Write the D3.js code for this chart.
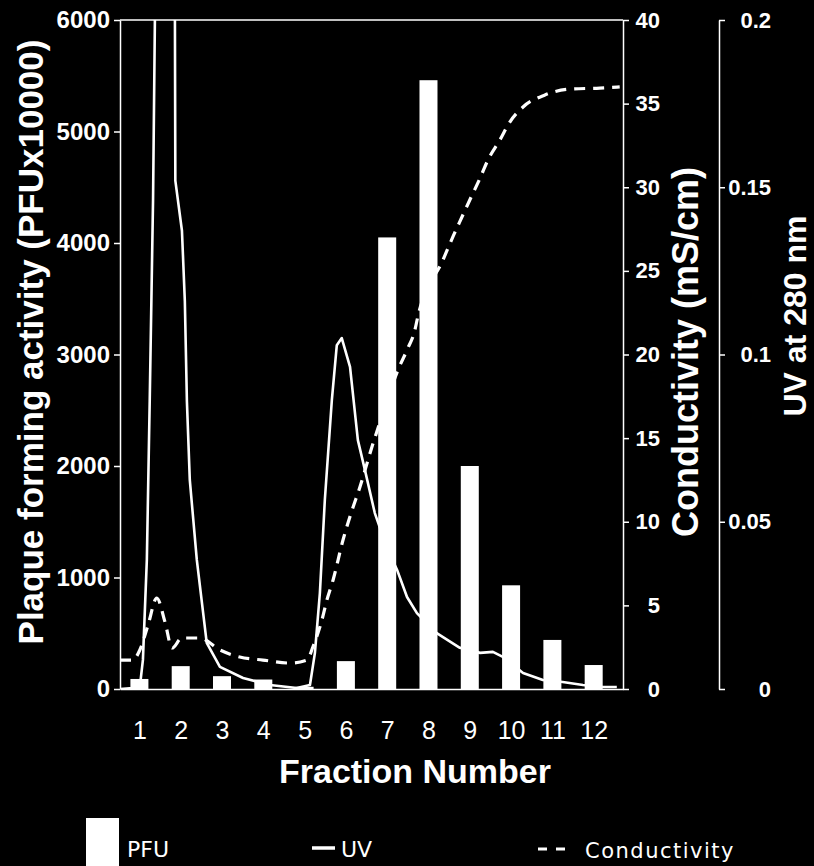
<!DOCTYPE html>
<html lang="en">
<head>
<meta charset="UTF-8">
<title>Fraction PFU / UV / Conductivity</title>
<script src="https://d3js.org/d3.v7.min.js"></script>
<style>
  body { margin: 0; background: #000; }
  svg { display: block; }
  text { fill: #fff; font-family: "Liberation Sans", Arial, sans-serif; }
  .axis path, .axis line { stroke: #fff; stroke-width: 1.5; }
</style>
</head>
<body>
<script>
// fraction number and plaque forming activity (PFU x 10000)
var fractions = [1, 2, 3, 4, 5, 6, 7, 8, 9, 10, 11, 12];
var pfu = [90, 205, 115, 85, 20, 250, 4050, 5460, 2000, 930, 440, 215];

// UV at 280 nm, [fraction, absorbance]
var uv = [
  [0.53, 0], [0.84, 0.0003], [1.01, 0.0006], [1.085, 0.0087], [1.18, 0.0386],
  [1.25, 0.0864], [1.33, 0.146], [1.375, 0.2], [1.45, 0.26], [1.79, 0.26],
  [1.86, 0.2], [1.87, 0.152], [2.03, 0.137], [2.10, 0.116], [2.15, 0.086],
  [2.22, 0.0625], [2.39, 0.0386], [2.63, 0.0138], [2.95, 0.0066], [3.51, 0.0033],
  [4.16, 0.0012], [4.81, 0.0003], [5.13, 0.0012], [5.25, 0.0108], [5.37, 0.0287],
  [5.49, 0.0565], [5.66, 0.0864], [5.78, 0.1028], [5.90, 0.1049], [6.10, 0.0963],
  [6.29, 0.0744], [6.46, 0.0655], [6.70, 0.0526], [6.97, 0.043], [7.24, 0.0356],
  [7.48, 0.0275], [7.72, 0.0227], [8.20, 0.0167], [8.76, 0.0123], [9.25, 0.0108],
  [9.56, 0.0111], [9.80, 0.0096], [10.29, 0.0048], [10.77, 0.0027], [11.25, 0.0021],
  [11.74, 0.0012], [12.22, 0.0006], [12.56, 0.0006]
];

// conductivity, [fraction, mS/cm]
var conductivity = [
  [0.53, 1.73], [0.84, 1.73], [1.01, 2.33], [1.21, 3.83], [1.42, 5.44],
  [1.62, 4.0], [1.79, 2.45], [2.03, 3.05], [2.46, 3.05], [2.95, 2.33],
  [3.43, 1.91], [3.99, 1.73], [4.64, 1.55], [5.06, 1.73], [5.20, 2.51],
  [5.42, 4.13], [5.54, 5.32], [5.69, 6.52], [5.93, 8.91], [6.15, 10.7],
  [6.34, 12.08], [6.63, 14.47], [6.94, 16.8], [7.26, 19.07], [7.48, 20.27],
  [7.67, 21.46], [7.74, 22.24], [8.35, 25.65], [8.59, 27.03], [8.81, 28.22],
  [9.00, 29.24], [9.25, 30.55], [9.44, 31.63], [9.73, 32.83], [9.97, 33.9],
  [10.29, 34.8], [10.82, 35.52], [11.42, 35.87], [12.15, 35.93], [12.63, 36.0]
];

var pfuTicks = [0, 1000, 2000, 3000, 4000, 5000, 6000];
var condTicks = [0, 5, 10, 15, 20, 25, 30, 35, 40];
var uvTicks = [0, 0.05, 0.1, 0.15, 0.2];

var w = 814, h = 866;
var plotL = 120, plotR = 623, plotT = 20, plotB = 689;
var uvAxisX = 719;

var svg = d3.select("body").append("svg")
    .attr("width", w)
    .attr("height", h)
    .style("background", "#000");

var x = d3.scaleLinear().domain([0.53, 12.71]).range([plotL, plotR]);
var yPfu = d3.scaleLinear().domain([0, 6000]).range([plotB, plotT]);
var yCond = d3.scaleLinear().domain([0, 40]).range([plotB, plotT]);
var yUv = d3.scaleLinear().domain([0, 0.2]).range([plotB, plotT]);

svg.append("clipPath").attr("id", "plot")
  .append("rect")
    .attr("x", plotL).attr("y", plotT)
    .attr("width", plotR - plotL).attr("height", plotB - plotT);

// traces first, the bars cover them
var uvLine = d3.line()
    .x(function(d) { return x(d[0]); })
    .y(function(d) { return yUv(d[1]); });

svg.append("path")
    .datum(uv)
    .attr("clip-path", "url(#plot)")
    .attr("fill", "none")
    .attr("stroke", "#fff")
    .attr("stroke-width", 2.6)
    .attr("stroke-linejoin", "round")
    .attr("d", uvLine);

var condLine = d3.line()
    .x(function(d) { return x(d[0]); })
    .y(function(d) { return yCond(d[1]); })
    .curve(d3.curveMonotoneX);

svg.append("path")
    .datum(conductivity)
    .attr("clip-path", "url(#plot)")
    .attr("fill", "none")
    .attr("stroke", "#fff")
    .attr("stroke-width", 3.2)
    .attr("stroke-dasharray", "11,8")
    .attr("d", condLine);

svg.selectAll("rect.bar")
    .data(pfu)
    .enter()
    .append("rect")
    .attr("class", "bar")
    .attr("x", function(d, i) { return x(fractions[i]) - 9; })
    .attr("y", function(d) { return yPfu(d); })
    .attr("width", 18)
    .attr("height", function(d) { return plotB - yPfu(d); })
    .attr("fill", "#fff");

// frame line along the top
svg.append("line")
    .attr("x1", plotL).attr("x2", plotR)
    .attr("y1", plotT).attr("y2", plotT)
    .attr("stroke", "#fff").attr("stroke-width", 1.5);

// axes
var gLeft = svg.append("g").attr("class", "axis")
    .attr("transform", "translate(" + plotL + ",0)")
    .call(d3.axisLeft(yPfu).tickValues(pfuTicks).tickSize(6).tickSizeOuter(0).tickPadding(4)
      .tickFormat(d3.format("d")));
gLeft.selectAll("text").style("font-size", "24px").style("font-weight", "bold").attr("fill", "#fff");

var gBottom = svg.append("g").attr("class", "axis")
    .attr("transform", "translate(0," + plotB + ")")
    .call(d3.axisBottom(x).tickValues(fractions).tickSize(0).tickSizeOuter(0).tickPadding(32)
      .tickFormat(d3.format("d")));
gBottom.selectAll("text").style("font-size", "25px").attr("fill", "#fff");

var gCond = svg.append("g").attr("class", "axis")
    .attr("transform", "translate(" + plotR + ",0)")
    .call(d3.axisRight(yCond).tickValues(condTicks).tickSize(6).tickSizeOuter(0));
gCond.selectAll("text").attr("x", 37).style("text-anchor", "end")
    .style("font-size", "22px").style("font-weight", "bold").attr("fill", "#fff");

var gUv = svg.append("g").attr("class", "axis")
    .attr("transform", "translate(" + uvAxisX + ",0)")
    .call(d3.axisRight(yUv).tickValues(uvTicks).tickSize(6).tickSizeOuter(0)
      .tickFormat(d3.format("")));
gUv.selectAll("text").attr("x", 52).style("text-anchor", "end")
    .style("font-size", "22px").style("font-weight", "bold").attr("fill", "#fff");

// axis titles
svg.append("text")
    .attr("transform", "translate(43,342) rotate(-90)")
    .attr("text-anchor", "middle")
    .style("font-size", "35px").style("font-weight", "bold")
    .text("Plaque forming activity (PFUx10000)");

svg.append("text")
    .attr("x", 415).attr("y", 783)
    .attr("text-anchor", "middle")
    .style("font-size", "34px").style("font-weight", "bold")
    .text("Fraction Number");

svg.append("text")
    .attr("transform", "translate(698,352) rotate(-90)")
    .attr("text-anchor", "middle")
    .style("font-size", "36px").style("font-weight", "bold")
    .text("Conductivity (mS/cm)");

svg.append("text")
    .attr("transform", "translate(806,316) rotate(-90)")
    .attr("text-anchor", "middle")
    .style("font-size", "32px").style("font-weight", "bold")
    .text("UV at 280 nm");

// legend
var legend = svg.append("g");
legend.append("rect").attr("x", 86).attr("y", 818).attr("width", 33).attr("height", 48).attr("fill", "#fff");
legend.append("text").attr("x", 127).attr("y", 857).style("font-size", "22px")
    .style("font-family", "'DejaVu Sans', sans-serif").text("PFU");
legend.append("line").attr("x1", 312).attr("x2", 335).attr("y1", 848).attr("y2", 848)
    .attr("stroke", "#fff").attr("stroke-width", 3.5);
legend.append("text").attr("x", 341).attr("y", 857).style("font-size", "22px")
    .style("font-family", "'DejaVu Sans', sans-serif").text("UV");
legend.append("line").attr("x1", 538).attr("x2", 566).attr("y1", 849).attr("y2", 849)
    .attr("stroke", "#fff").attr("stroke-width", 3).attr("stroke-dasharray", "9,9");
legend.append("text").attr("x", 585).attr("y", 858).style("font-size", "21px")
    .style("letter-spacing", "1.5px")
    .style("font-family", "'DejaVu Sans', sans-serif").text("Conductivity");
</script>
</body>
</html>
